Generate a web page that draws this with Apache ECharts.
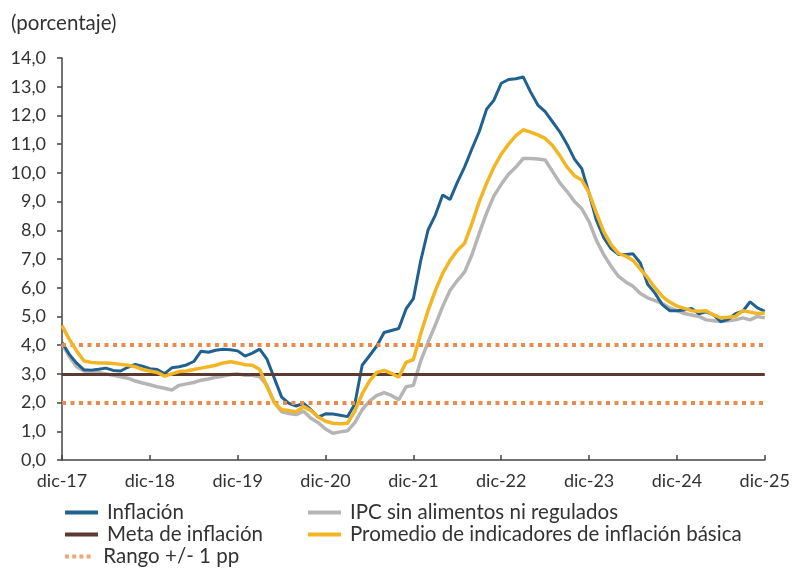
<!DOCTYPE html>
<html>
<head>
<meta charset="utf-8">
<script src="https://cdn.jsdelivr.net/npm/echarts@6/dist/echarts.min.js"></script>
<style>
  html, body { margin: 0; padding: 0; background: #ffffff; }
  #chart { width: 793px; height: 569px; }
</style>
</head>
<body>
<div id="chart"></div>
<script>
// Monthly series, dic-2017 to dic-2025 (97 months)
const monthNames = ['ene', 'feb', 'mar', 'abr', 'may', 'jun', 'jul', 'ago', 'sep', 'oct', 'nov', 'dic'];
const years = [17, 18, 19, 20, 21, 22, 23, 24, 25];

// Annual headline CPI inflation (%)
const inflacion = [
  4.09,
  3.68, 3.37, 3.14, 3.13, 3.16, 3.20, 3.12, 3.10, 3.23, 3.33, 3.27, 3.18,
  3.15, 3.01, 3.21, 3.25, 3.31, 3.43, 3.79, 3.75, 3.82, 3.86, 3.84, 3.80,
  3.62, 3.72, 3.86, 3.51, 2.85, 2.19, 1.97, 1.88, 1.97, 1.75, 1.49, 1.61,
  1.60, 1.56, 1.51, 1.95, 3.30, 3.63, 3.97, 4.44, 4.51, 4.58, 5.26, 5.62,
  6.94, 8.01, 8.53, 9.23, 9.07, 9.67, 10.21, 10.84, 11.44, 12.22, 12.53, 13.12,
  13.25, 13.28, 13.34, 12.82, 12.36, 12.13, 11.78, 11.43, 10.99, 10.48, 10.15, 9.28,
  8.35, 7.74, 7.36, 7.16, 7.16, 7.18, 6.86, 6.12, 5.81, 5.41, 5.20, 5.20,
  5.22, 5.28, 5.09, 5.16, 5.05, 4.82, 4.90, 5.10, 5.18, 5.51, 5.30, 5.18
];

// CPI excluding food and regulated items (%)
const ipcSinAlimentos = [
  4.05,
  3.60, 3.25, 3.10, 3.05, 3.05, 3.00, 2.95, 2.90, 2.85, 2.75, 2.68, 2.62,
  2.55, 2.50, 2.44, 2.60, 2.65, 2.70, 2.78, 2.82, 2.88, 2.92, 2.98, 3.00,
  2.95, 2.95, 2.90, 2.60, 2.00, 1.68, 1.62, 1.58, 1.70, 1.45, 1.30, 1.08,
  0.93, 0.98, 1.02, 1.30, 1.75, 2.05, 2.25, 2.35, 2.25, 2.10, 2.55, 2.60,
  3.45, 4.10, 4.70, 5.35, 5.90, 6.25, 6.55, 7.15, 7.90, 8.60, 9.20, 9.60,
  9.95, 10.20, 10.50, 10.50, 10.48, 10.45, 10.05, 9.65, 9.35, 9.00, 8.75, 8.30,
  7.65, 7.15, 6.75, 6.40, 6.20, 6.05, 5.80, 5.65, 5.55, 5.45, 5.30, 5.20,
  5.10, 5.05, 5.00, 4.88, 4.85, 4.82, 4.85, 4.88, 4.95, 4.88, 5.00, 4.95
];

// Average of core inflation indicators (%)
const promedioBasica = [
  4.68,
  4.20, 3.80, 3.45, 3.40, 3.38, 3.38, 3.36, 3.33, 3.30, 3.25, 3.15, 3.10,
  3.05, 2.92, 3.00, 3.08, 3.10, 3.15, 3.20, 3.25, 3.30, 3.38, 3.42, 3.38,
  3.32, 3.30, 3.15, 2.55, 2.00, 1.75, 1.72, 1.68, 1.86, 1.72, 1.50, 1.35,
  1.28, 1.26, 1.28, 1.70, 2.30, 2.75, 3.05, 3.12, 3.02, 2.88, 3.40, 3.50,
  4.40, 5.20, 5.90, 6.50, 6.95, 7.30, 7.55, 8.24, 9.00, 9.64, 10.20, 10.65,
  11.00, 11.30, 11.50, 11.42, 11.32, 11.20, 10.95, 10.60, 10.20, 9.90, 9.75, 9.30,
  8.60, 7.95, 7.50, 7.20, 7.10, 6.95, 6.65, 6.35, 6.00, 5.70, 5.50, 5.36,
  5.28, 5.20, 5.18, 5.20, 5.05, 4.95, 4.97, 5.00, 5.20, 5.15, 5.10, 5.12
];

// Policy target and tolerance band
const metaInflacion = 3.0;
const rangoInferior = 2.0;
const rangoSuperior = 4.0;

// Category labels: dic-17, ene-18, ..., dic-25
const categories = ['dic-' + years[0]];
for (let i = 1; i < years.length; i++) {
  for (let m = 0; m < 12; m++) categories.push(monthNames[m] + '-' + years[i]);
}

const FONT = 'Lato';
const TEXT = '#333333';
const AXIS = '#444444';

const C_INFL = '#21618f';
const C_IPC = '#b5b5b5';
const C_PROM = '#f2b624';
const C_META = '#5b3a31';
const C_RANGO = '#ea8a4c';

// Dotted legend marker for the tolerance band
const DOTS_ICON = 'path://M0,0h5v5h-5z M9,0h5v5h-5z M18,0h5v5h-5z M27,0h5v5h-5z';

const chart = echarts.init(document.getElementById('chart'), null, { renderer: 'canvas' });

const isDec = (idx) => idx % 12 === 0;

// One legend entry per row, laid out in two columns
function legendItem(name, icon, left, top) {
  return {
    left: left,
    top: top,
    padding: 0,
    itemWidth: 33,
    itemHeight: 4,
    selectedMode: false,
    textStyle: { fontFamily: FONT, fontSize: 20.5, color: TEXT, padding: [0, 0, 0, 4] },
    data: [{ name: name, icon: icon }]
  };
}

chart.setOption({
  animation: false,
  backgroundColor: '#ffffff',
  textStyle: { fontFamily: FONT },
  title: {
    text: '(porcentaje)',
    left: 6,
    top: 8,
    textStyle: { fontFamily: FONT, fontSize: 20.5, fontWeight: 'normal', color: TEXT }
  },
  grid: { left: 62, right: 27, top: 58, bottom: 109 },
  xAxis: {
    type: 'category',
    data: categories,
    boundaryGap: false,
    axisLine: { lineStyle: { color: AXIS, width: 1.5 } },
    axisTick: { inside: true, length: 5, interval: (idx) => isDec(idx), lineStyle: { color: AXIS, width: 1.5 } },
    axisLabel: {
      interval: (idx) => isDec(idx),
      margin: 12,
      fontFamily: FONT,
      fontSize: 18,
      color: TEXT
    },
    splitLine: { show: false }
  },
  yAxis: {
    type: 'value',
    min: 0,
    max: 14,
    interval: 1,
    axisLine: { show: true, lineStyle: { color: AXIS, width: 1.5 } },
    axisTick: { show: true, inside: false, length: 5, lineStyle: { color: AXIS, width: 1.5 } },
    axisLabel: {
      margin: 16,
      fontFamily: FONT,
      fontSize: 18,
      color: TEXT,
      formatter: (v) => v.toFixed(1).replace('.', ',')
    },
    splitLine: { show: false }
  },
  legend: [
    legendItem('Inflación', 'rect', 65, 502),
    legendItem('Meta de inflación', 'rect', 65, 524),
    legendItem('Rango +/- 1 pp', DOTS_ICON, 65, 546),
    legendItem('IPC sin alimentos ni regulados', 'rect', 308, 502),
    legendItem('Promedio de indicadores de inflación básica', 'rect', 308, 524)
  ],
  series: [
    {
      name: 'Rango +/- 1 pp',
      type: 'line',
      data: [],
      symbol: 'none',
      color: C_RANGO,
      itemStyle: { color: C_RANGO, opacity: 0.75 },
      lineStyle: { color: C_RANGO, width: 4, type: [4, 4.5] },
      markLine: {
        silent: true,
        symbol: 'none',
        label: { show: false },
        lineStyle: { color: C_RANGO, width: 4, type: [4, 4.5] },
        data: [{ yAxis: rangoInferior }, { yAxis: rangoSuperior }]
      },
      z: 1
    },
    {
      name: 'Meta de inflación',
      type: 'line',
      data: [],
      symbol: 'none',
      color: C_META,
      lineStyle: { color: C_META, width: 3 },
      markLine: {
        silent: true,
        symbol: 'none',
        label: { show: false },
        lineStyle: { color: C_META, width: 3, type: 'solid' },
        data: [{ yAxis: metaInflacion }]
      },
      z: 2
    },
    {
      name: 'IPC sin alimentos ni regulados',
      type: 'line',
      data: ipcSinAlimentos,
      symbol: 'none',
      color: C_IPC,
      lineStyle: { color: C_IPC, width: 3.5 },
      z: 3
    },
    {
      name: 'Inflación',
      type: 'line',
      data: inflacion,
      symbol: 'none',
      color: C_INFL,
      lineStyle: { color: C_INFL, width: 3 },
      z: 4
    },
    {
      name: 'Promedio de indicadores de inflación básica',
      type: 'line',
      data: promedioBasica,
      symbol: 'none',
      color: C_PROM,
      lineStyle: { color: C_PROM, width: 3.5 },
      z: 5
    }
  ]
});
</script>
</body>
</html>
